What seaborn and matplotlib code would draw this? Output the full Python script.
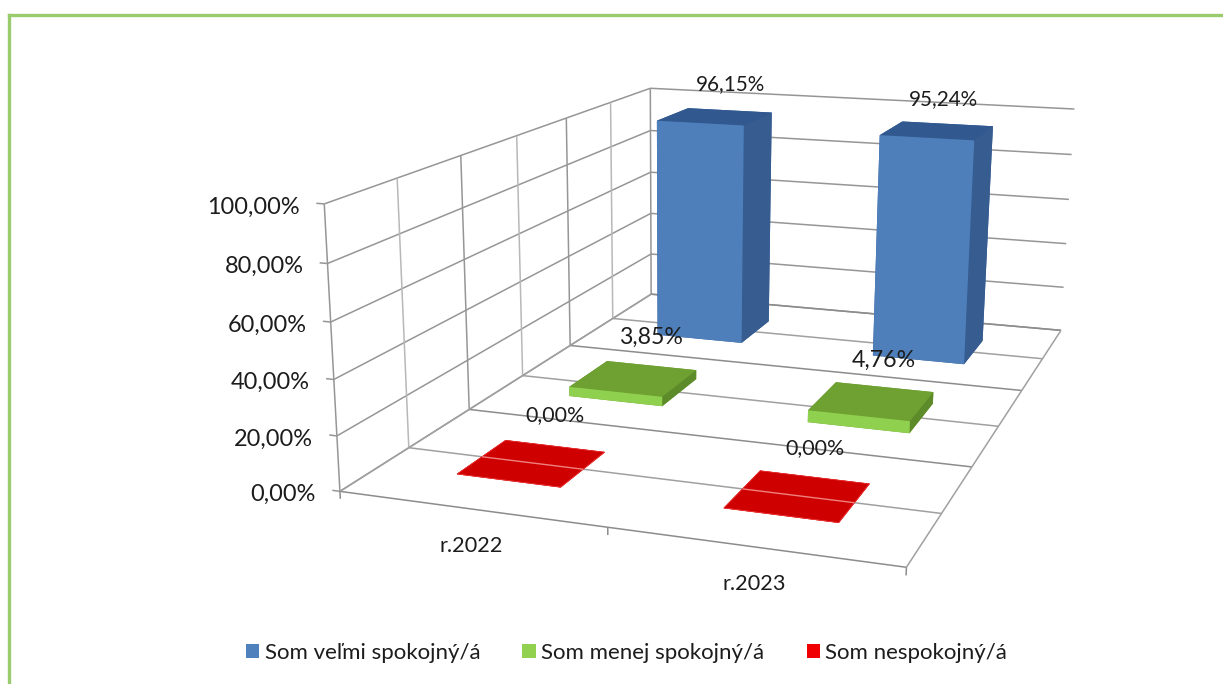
import numpy as np
import matplotlib
matplotlib.use("Agg")
import matplotlib.pyplot as plt
from matplotlib.lines import Line2D
from matplotlib.patches import Patch
from mpl_toolkits.mplot3d import proj3d
import seaborn as sns

# ---- data -----------------------------------------------------------
categories = ["r.2022", "r.2023"]
series_names = ["Som veľmi spokojný/á", "Som menej spokojný/á", "Som nespokojný/á"]
very_satisfied = [96.15, 95.24]
less_satisfied = [3.85, 4.76]
not_satisfied = [0.00, 0.00]
value_ticks = [0, 20, 40, 60, 80, 100]
value_tick_labels = ["0,00%", "20,00%", "40,00%", "60,00%", "80,00%", "100,00%"]

# ---- style ----------------------------------------------------------
W, H = 1223, 684
sns.set_theme(style="white")
plt.rcParams["font.family"] = ["Lato", "DejaVu Sans"]
TEXT = "#1C1C1C"
legend_colors = sns.color_palette(["#4F81BD", "#92D050", "#F00000"])
# face colours in bar3d order: -Z, +Z, -Y, +Y, -X, +X
face_colors = [
    ["#2F5A94", "#31598F", "#4E7FBA", "#2F5A94", "#2F5A94", "#365C90"],
    ["#6FA032", "#6FA032", "#8FD14F", "#6FA032", "#5E8B2A", "#5E8B2A"],
    ["#CE0000", "#CE0000", "#CE0000", "#CE0000", "#CE0000", "#CE0000"],
]

# ---- camera calibration: (x, depth, value) -> reference pixel --------
calibration = []
left_front = [(325, 203), (328, 263), (331, 322), (333, 379), (337, 436), (341, 492)]
left_back = [(649, 88), (650, 131), (651, 173), (651, 214), (651, 254), (651, 293)]
right_back = [(1075, 109), (1072, 155), (1068, 199), (1067, 244), (1064, 287), (1062, 331)]
for i, v in enumerate([100, 80, 60, 40, 20, 0]):
    calibration.append((0, 0, v, *left_front[i]))
    calibration.append((0, 6, v, *left_back[i]))
    calibration.append((2, 6, v, *right_back[i]))
floor_left = [(408, 447), (468, 409), (522, 377), (570, 345), (615, 318)]
floor_right = [(941, 513), (972, 467), (997, 426), (1023, 390), (1040, 358)]
for i in range(5):
    calibration.append((0, i + 1, 0, *floor_left[i]))
    calibration.append((2, i + 1, 0, *floor_right[i]))
calibration.append((2, 0, 0, 907, 567))
calibration.append((1, 0, 0, 608, 530))


def fit_camera(pts):
    rows = []
    for x, y, z, u, v in pts:
        p = [x, y, z / 100.0, 1.0]
        rows.append(p + [0, 0, 0, 0] + [-u * c for c in p])
        rows.append([0, 0, 0, 0] + p + [-v * c for c in p])
    P = np.linalg.svd(np.array(rows, float))[2][-1].reshape(3, 4)
    P[:, 2] /= 100.0
    if P[2] @ np.array([1, 3, 50, 1]) < 0:
        P = -P
    return P


P = fit_camera(calibration)

fig = plt.figure(figsize=(W / 100, H / 100), dpi=100, facecolor="white")
h = W / H
ax = fig.add_axes([0, (1 - h) / 2, 1, h], projection="3d")
ax.set_axis_off()
ax.patch.set_visible(False)
ax.computed_zorder = False
ax.apply_aspect()

flip = np.array([[1, 0, 0], [0, -1, H], [0, 0, 1]], float)
to_ax = np.linalg.inv(ax.transData.get_matrix()) @ flip
Q = to_ax @ P
M = np.array([Q[0], Q[1], [0, 0, 0, -1.0], Q[2]])
ax.get_proj = lambda: M
ax.M = M

GRID_DARK = "#969696"
GRID_LIGHT = "#B8B8B8"
LW = 1.1


def seg(a, b, color=GRID_DARK, lw=LW, z=1):
    ax.plot([a[0], b[0]], [a[1], b[1]], [a[2], b[2]], color=color, lw=lw,
            zorder=z, solid_capstyle="butt", clip_on=False)


# value gridlines on the two walls, value ticks
for v in value_ticks:
    seg((0, 0, v), (0, 6, v))
    seg((0, 6, v), (2, 6, v))
    seg((-0.03, 0, v), (0, 0, v))
# depth divisions on wall and floor
for d in range(7):
    c = GRID_DARK if d % 2 == 0 else GRID_LIGHT
    seg((0, d, 0), (0, d, 100), color=c)
    seg((0, d, 0), (2, d, 0), color="#8C8C8C" if d % 2 == 0 else "#A0A0A0")
# floor border and category ticks
seg((0, 0, 0), (0, 6, 0), color="#A0A0A0")
seg((2, 0, 0), (2, 6, 0), color="#A0A0A0")
for c in [0, 1, 2]:
    seg((c, 0, 0), (c, 0, -2.7), color="#8C8C8C")

# bars
BAR_W = 0.40
BAR_D = 0.80
series_values = [very_satisfied, less_satisfied, not_satisfied]
series_depth = [5, 3, 1]
for s, vals in enumerate(series_values):
    for c, val in enumerate(vals):
        ax.bar3d(c + 0.5 - BAR_W / 2, series_depth[s] - BAR_D / 2, 0,
                 BAR_W, BAR_D, val, color=face_colors[s], shade=False,
                 linewidth=0.5 if s == 2 else 0,
                 edgecolor="#E83030" if s == 2 else None,
                 zorder=3 + s)
# the floor gridline shows through the flat red bars
for c in range(2):
    seg((c + 0.5 - BAR_W / 2, 1, 0), (c + 0.5 + BAR_W / 2, 1, 0),
        color="#F08080", lw=1.0, z=7)


def anchor(x, y, z):
    xs, ys, _ = proj3d.proj_transform(x, y, z, M)
    return float(xs), float(ys)


def label(text, x, y, z, dx, dy, size, ha="center"):
    ax.annotate(text, xy=anchor(x, y, z), xytext=(dx, dy), textcoords="offset pixels",
                ha=ha, va="center", fontsize=size, color=TEXT, zorder=20,
                annotation_clip=False)


# value-axis labels
for v, t in zip(value_ticks, value_tick_labels):
    label(t, 0, 0, v, -24, -3, 16.9, ha="right")

# category labels
for c, name in enumerate(categories):
    label(name, c + 0.5, 0, 0, 1, -37, 15.6)

# data labels: pixel offsets from the centre of each bar top
label_dx = [[15, 6], [17, 12], [23, 17]]
label_dy = [32, 41, 48]
label_size = [14.9, 16.7, 15.4]
for s, vals in enumerate(series_values):
    for c, val in enumerate(vals):
        text = f"{val:.2f}%".replace(".", ",")
        label(text, c + 0.5, series_depth[s], val, label_dx[s][c], label_dy[s], label_size[s])

# legend
handles = [Patch(facecolor=col, edgecolor="none", label=n) for col, n in zip(legend_colors, series_names)]
fig.legend(handles=handles, loc="center", bbox_to_anchor=(626.5 / W, 1 - 653 / H), ncol=3,
           frameon=False, fontsize=16.0, handlelength=0.6, handleheight=0.6,
           handletextpad=0.25, columnspacing=1.9, labelcolor=TEXT)

# chart frame: only the top and left edges are visible in the crop
FRAME = "#9ACB6C"
fig.add_artist(Line2D([9 / W, 9 / W], [0, 1 - 15 / H], transform=fig.transFigure,
                      color=FRAME, lw=2.4, solid_capstyle="projecting"))
fig.add_artist(Line2D([9 / W, 1], [1 - 15 / H, 1 - 15 / H], transform=fig.transFigure,
                      color=FRAME, lw=2.4, solid_capstyle="projecting"))

fig.savefig("out.png", dpi=100)
